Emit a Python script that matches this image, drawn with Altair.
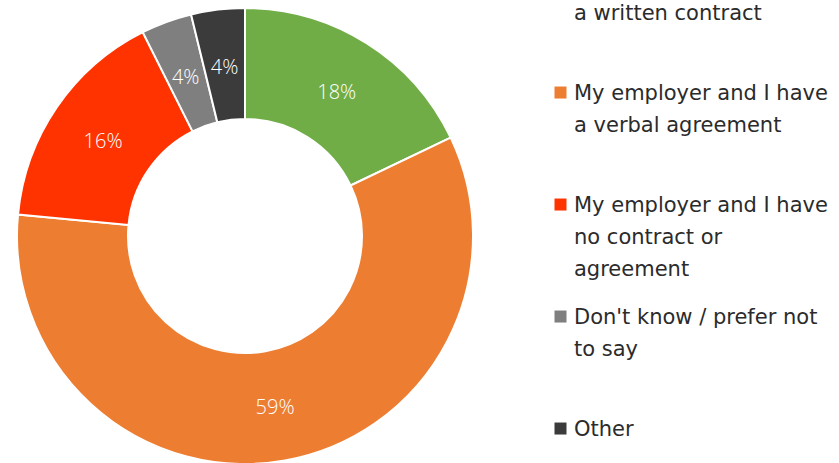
import altair as alt
import pandas as pd

categories = [
    "My employer and I have\na written contract",
    "My employer and I have\na verbal agreement",
    "My employer and I have\nno contract or\nagreement",
    "Don't know / prefer not\nto say",
    "Other",
]
values = [17.9, 58.6, 16.1, 3.6, 3.8]
colors = ["#70AD47", "#ED7D31", "#FF3300", "#7F7F7F", "#3B3B3B"]

df = pd.DataFrame({"category": categories, "value": values, "idx": list(range(len(values)))})

FONT = "Open Sans"
LEGEND_FONT = "DejaVu Sans"

base = alt.Chart(df).transform_calculate(
    label="format(datum.value, '.0f') + '%'"
).encode(
    theta=alt.Theta("value:Q", stack=True),
    order=alt.Order("idx:Q"),
)

arcs = base.mark_arc(outerRadius=228, innerRadius=117, stroke="white", strokeWidth=2).encode(
    color=alt.Color(
        "category:N",
        scale=alt.Scale(domain=categories, range=colors),
        legend=alt.Legend(
            title=None,
            orient="none",
            legendX=550,
            legendY=-40,
            labelExpr="split(datum.label, '\\n')",
            labelFont=LEGEND_FONT,
            labelFontSize=21,
            labelColor="#2b2b2b",
            labelLimit=0,
            labelOffset=3,
            labelBaseline="top",
            symbolType="M-1,0.67H1V2.67H-1Z",
            symbolSize=144,
            symbolStrokeWidth=0,
            symbolOpacity=1,
            rowPadding=16,
            gridAlign="all",
            padding=0,
        ),
    )
)

texts = base.mark_text(radius=172, dy=3, fill="white", fontSize=20, font=FONT, fontWeight=300).encode(
    text="label:N"
)

chart = (arcs + texts).properties(
    width=490,
    height=472,
    padding={"left": 0, "top": 0, "right": 349, "bottom": -9},
    autosize=alt.AutoSizeParams(type="none"),
).configure_view(stroke=None).configure(style={"guide-label": {"lineHeight": 32}})

chart.save("out.html", embed_options={"renderer": "svg", "actions": False})
